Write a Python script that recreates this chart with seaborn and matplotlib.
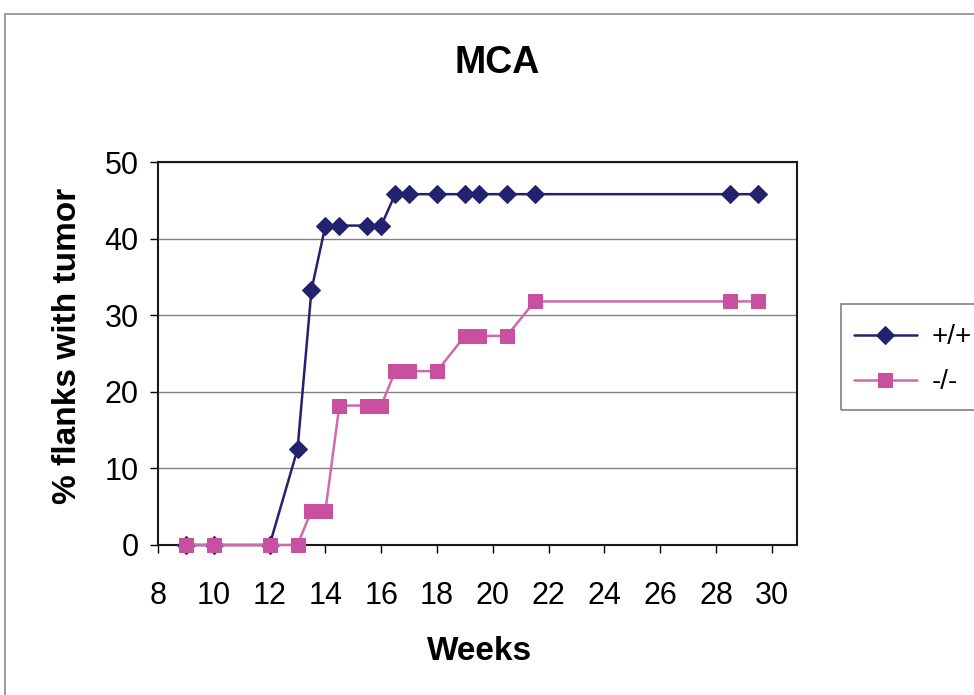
import matplotlib
matplotlib.use("Agg")
import matplotlib.pyplot as plt
import matplotlib.patches as patches
import seaborn as sns

# ================= 数据 =================
weeks_wt = [9, 10, 12, 13, 13.5, 14, 14.5, 15.5, 16, 16.5, 17, 18, 19, 19.5, 20.5, 21.5, 28.5, 29.5]
pct_wt = [0, 0, 0, 12.5, 33.3, 41.7, 41.7, 41.7, 41.7, 45.8, 45.8, 45.8, 45.8, 45.8, 45.8, 45.8, 45.8, 45.8]

weeks_ko = [9, 10, 12, 13, 13.5, 14, 14.5, 15.5, 16, 16.5, 17, 18, 19, 19.5, 20.5, 21.5, 28.5, 29.5]
pct_ko = [0, 0, 0, 0, 4.5, 4.5, 18.2, 18.2, 18.2, 22.7, 22.7, 22.7, 27.3, 27.3, 27.3, 31.8, 31.8, 31.8]

series_labels = ['+/+', '-/-']
x_ticks = list(range(8, 31, 2))
y_ticks = [0, 10, 20, 30, 40, 50]

NAVY = '#22226E'
PINK = '#C94F9F'
PINK_LINE = '#D06AAA'
# =======================================

sns.set_style("white")
plt.rcParams['font.family'] = ['Liberation Sans', 'DejaVu Sans']
plt.rcParams['text.color'] = 'black'
plt.rcParams['xtick.color'] = 'black'
plt.rcParams['ytick.color'] = 'black'

W, H = 974, 695
fig = plt.figure(figsize=(W / 100, H / 100), dpi=100)
ax = fig.add_axes([158 / W, 1 - 545 / H, (797 - 158) / W, (545 - 162) / H])

# 外框
fig.patches.append(patches.Rectangle((5 / W, -0.02), 1.0, (H - 14) / H + 0.02,
                                     transform=fig.transFigure, fill=False,
                                     edgecolor='#8c8c8c', lw=1.2, zorder=0))
# 图例框
fig.patches.append(patches.Rectangle((841 / W, 1 - 410 / H), 0.2, (410 - 304) / H,
                                     transform=fig.transFigure, fill=False,
                                     edgecolor='#808080', lw=1.2, zorder=0))

sns.lineplot(x=weeks_wt, y=pct_wt, ax=ax, color=NAVY, lw=1.8, marker='D',
             markersize=9.5, markeredgecolor=NAVY, estimator=None, sort=False,
             label=series_labels[0], clip_on=False, zorder=3)
sns.lineplot(x=weeks_ko, y=pct_ko, ax=ax, color=PINK_LINE, lw=1.8, marker='s',
             markersize=10.5, markerfacecolor=PINK, markeredgecolor=PINK,
             estimator=None, sort=False, label=series_labels[1], clip_on=False,
             zorder=4)

ax.set_xlim(8, 30.9)
ax.set_ylim(0, 50)
ax.set_xticks(x_ticks)
ax.set_yticks(y_ticks)
ax.yaxis.grid(True, color='#808080', lw=1.0)
ax.set_axisbelow(True)
for s in ax.spines.values():
    s.set_color('#1a1a1a')
    s.set_linewidth(1.5)

ax.tick_params(axis='x', direction='out', length=6, width=1, pad=20, labelsize=22, bottom=True)
ax.tick_params(axis='y', direction='out', length=6, width=1, pad=8, labelsize=22, left=True)

ax.set_xlabel('')
ax.set_ylabel('')
fig.text(480 / W, 1 - 652 / H, 'Weeks', ha='center', va='center',
         fontsize=24, fontweight='bold')
fig.text(68 / W, 1 - 346 / H, '% flanks with tumor', ha='center', va='center',
         rotation=90, fontsize=24, fontweight='bold')
fig.text(497 / W, 1 - 63 / H, 'MCA', ha='center', va='center',
         fontsize=27, fontweight='bold')

leg = ax.legend(loc='upper left', bbox_to_anchor=(841 / W, 1 - 312 / H),
                bbox_transform=fig.transFigure, borderaxespad=0, fontsize=20,
                frameon=False, handlelength=2.3, handletextpad=0.5,
                labelspacing=0.68, borderpad=0.45)

fig.savefig('out.png', dpi=100)
